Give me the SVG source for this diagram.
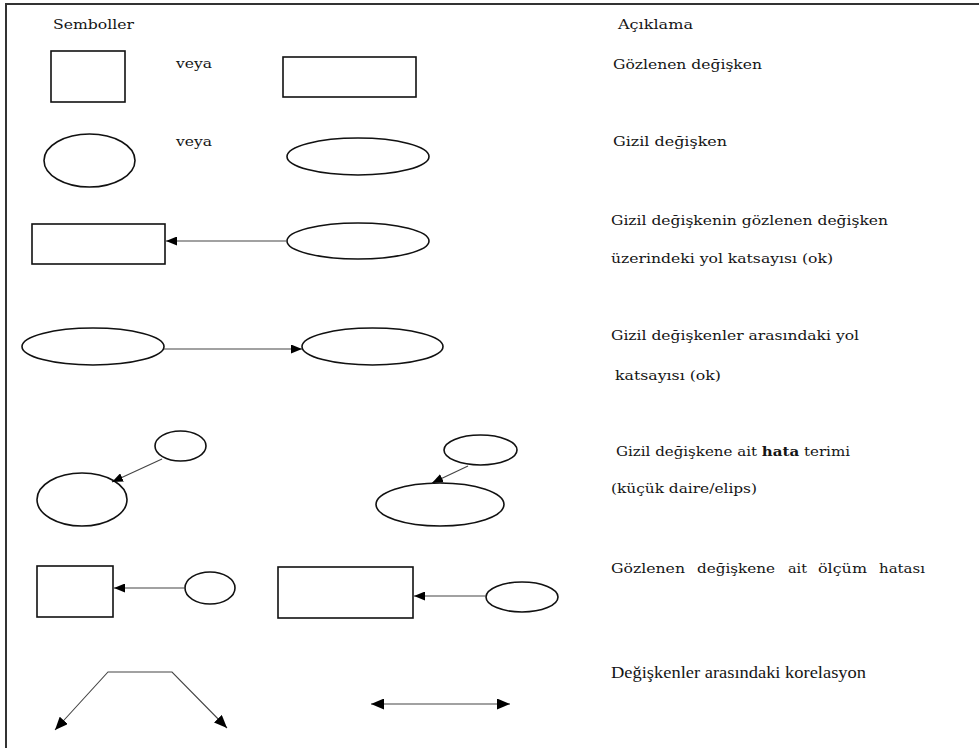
<svg xmlns="http://www.w3.org/2000/svg" width="979" height="748" viewBox="0 0 979 748">
<style>
.frame{stroke:#333;stroke-width:2;fill:none}
.shape{fill:#fff;stroke:#111;stroke-width:1.6}
.conn{stroke:#444;stroke-width:1.1;fill:none}
.t{font-family:'DejaVu Serif','Liberation Serif','Noto Serif',serif;font-size:13px;fill:#151515}
.big{font-family:'Liberation Serif','DejaVu Serif',serif;font-size:17px}
</style>
<defs>
<marker id="ah" markerWidth="11" markerHeight="9" refX="11" refY="4.5" orient="auto-start-reverse" markerUnits="userSpaceOnUse">
<path d="M0,0 L11,4.5 L0,9 z" fill="#000"/>
</marker>
<marker id="ahb" markerWidth="13" markerHeight="11" refX="13" refY="5.5" orient="auto-start-reverse" markerUnits="userSpaceOnUse">
<path d="M0,0 L13,5.5 L0,11 z" fill="#000"/>
</marker>
</defs>
<rect width="979" height="748" fill="#fff"/>
<path class="frame" d="M6,748 V4 H979"/>

<g id="headers">
<text class="t" x="53" y="29" textLength="81" lengthAdjust="spacingAndGlyphs" font-size="12">Semboller</text>
<text class="t" x="618" y="29" textLength="75" lengthAdjust="spacingAndGlyphs" font-size="12">Açıklama</text>
</g>

<g id="row1">
<rect id="obs-square" class="shape" x="51" y="51" width="74" height="51"/>
<text class="t" x="176" y="68" textLength="36" lengthAdjust="spacingAndGlyphs">veya</text>
<rect id="obs-rect" class="shape" x="283" y="57" width="133" height="40"/>
<text class="t" x="613" y="69" textLength="149" lengthAdjust="spacingAndGlyphs">Gözlenen değişken</text>
</g>

<g id="row2">
<ellipse id="lat-circle" class="shape" cx="89.5" cy="160.5" rx="45.5" ry="26.5"/>
<text class="t" x="176" y="146" textLength="36" lengthAdjust="spacingAndGlyphs">veya</text>
<ellipse id="lat-ellipse" class="shape" cx="358" cy="156.5" rx="71" ry="18.5"/>
<text class="t" x="613" y="146" textLength="114" lengthAdjust="spacingAndGlyphs">Gizil değişken</text>
</g>

<g id="row3">
<rect id="r3-rect" class="shape" x="32" y="224" width="133" height="40"/>
<ellipse id="r3-ellipse" class="shape" cx="358" cy="241" rx="71" ry="18"/>
<text class="t" x="611" y="225" textLength="277" lengthAdjust="spacingAndGlyphs">Gizil değişkenin gözlenen değişken</text>
<text class="t" x="611" y="263" textLength="222" lengthAdjust="spacingAndGlyphs">üzerindeki yol katsayısı (ok)</text>
</g>

<g id="row4">
<ellipse id="r4-left" class="shape" cx="93" cy="346.5" rx="71" ry="18.5"/>
<ellipse id="r4-right" class="shape" cx="372.5" cy="346.5" rx="70.5" ry="18.5"/>
<text class="t" x="611" y="340" textLength="248" lengthAdjust="spacingAndGlyphs">Gizil değişkenler arasındaki yol</text>
<text class="t" x="615" y="380" textLength="106" lengthAdjust="spacingAndGlyphs">katsayısı (ok)</text>
</g>

<g id="row5">
<ellipse id="r5-err1" class="shape" cx="180.5" cy="446" rx="25.5" ry="15"/>
<ellipse id="r5-lat1" class="shape" cx="82" cy="499.5" rx="45" ry="26.5"/>
<ellipse id="r5-err2" class="shape" cx="480.5" cy="450" rx="36.5" ry="15"/>
<ellipse id="r5-lat2" class="shape" cx="440" cy="504.5" rx="64" ry="21.5"/>
<text class="t" x="616" y="456" textLength="234" lengthAdjust="spacingAndGlyphs">Gizil değişkene ait <tspan font-weight="bold">hata</tspan> terimi</text>
<text class="t" x="611" y="493" textLength="146" lengthAdjust="spacingAndGlyphs">(küçük daire/elips)</text>
</g>

<g id="row6">
<rect id="r6-square" class="shape" x="37" y="566" width="76" height="51"/>
<ellipse id="r6-err1" class="shape" cx="210" cy="588" rx="25" ry="16"/>
<rect id="r6-rect" class="shape" x="278" y="567" width="135" height="51"/>
<ellipse id="r6-err2" class="shape" cx="522" cy="597" rx="36" ry="15"/>
<text class="t" y="573"><tspan x="611" textLength="74" lengthAdjust="spacingAndGlyphs">Gözlenen</tspan> <tspan x="697" textLength="78" lengthAdjust="spacingAndGlyphs">değişkene</tspan> <tspan x="788" textLength="19" lengthAdjust="spacingAndGlyphs">ait</tspan> <tspan x="818" textLength="49" lengthAdjust="spacingAndGlyphs">ölçüm</tspan> <tspan x="879" textLength="46" lengthAdjust="spacingAndGlyphs">hatası</tspan></text>
</g>

<g id="row7">
<text class="big" x="611" y="678" textLength="255" lengthAdjust="spacingAndGlyphs" fill="#151515">Değişkenler arasındaki korelasyon</text>
</g>

<g id="connectors">
<line class="conn" x1="286" y1="241" x2="166" y2="241" marker-end="url(#ah)"/>
<line class="conn" x1="164" y1="349" x2="302" y2="349" marker-end="url(#ah)"/>
<line class="conn" x1="162" y1="459" x2="112" y2="482" marker-end="url(#ah)"/>
<line class="conn" x1="468" y1="466" x2="432" y2="483" marker-end="url(#ah)"/>
<line class="conn" x1="185" y1="588" x2="114" y2="588" marker-end="url(#ah)"/>
<line class="conn" x1="486" y1="596" x2="414" y2="596" marker-end="url(#ah)"/>
<polyline class="conn" points="55,730 108,672 172,672 227,728" marker-start="url(#ahb)" marker-end="url(#ahb)"/>
<line class="conn" x1="371" y1="704" x2="510" y2="704" marker-start="url(#ahb)" marker-end="url(#ahb)"/>
</g>
</svg>
